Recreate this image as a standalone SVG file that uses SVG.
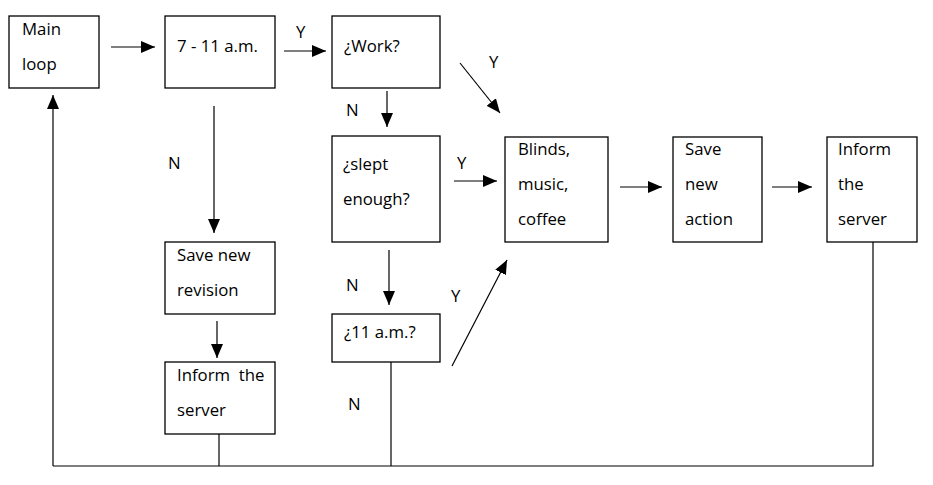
<svg xmlns="http://www.w3.org/2000/svg" width="933" height="485" viewBox="0 0 933 485">
<style>
.box{fill:#fff;stroke:#000;stroke-width:1.3}
.t{font-family:"Open Sans","Liberation Sans",sans-serif;font-size:16.8px;fill:#000}
.c{stroke:#000;stroke-width:1.2;fill:none}
.a{marker-end:url(#ah)}
</style>
<defs>
<marker id="ah" viewBox="0 0 14 12" refX="14" refY="6" markerWidth="14" markerHeight="12" markerUnits="userSpaceOnUse" orient="auto">
<path d="M0,0 L14,6 L0,12 Z" fill="#000"/>
</marker>
</defs>
<rect width="933" height="485" fill="#fff"/>
<g id="connectors">
<line class="c a" x1="111" y1="47" x2="155" y2="47"/>
<line class="c a" x1="284" y1="51" x2="326" y2="51"/>
<line class="c a" x1="460" y1="63" x2="500" y2="113"/>
<line class="c a" x1="387" y1="91" x2="387" y2="127"/>
<line class="c a" x1="214" y1="106" x2="214" y2="233"/>
<line class="c a" x1="454" y1="181" x2="497" y2="181"/>
<line class="c a" x1="620" y1="187" x2="662" y2="187"/>
<line class="c a" x1="772" y1="187" x2="812" y2="187"/>
<line class="c a" x1="389" y1="250" x2="389" y2="305"/>
<line class="c a" x1="452" y1="366" x2="507" y2="260"/>
<line class="c a" x1="217" y1="321" x2="217" y2="358"/>
<polyline class="c" points="873,242 873,466 53,466"/>
<line class="c a" x1="53" y1="466" x2="53" y2="95"/>
<line class="c" x1="219" y1="434" x2="219" y2="466"/>
<line class="c" x1="391" y1="362" x2="391" y2="466"/>
<text class="t" x="296" y="38">Y</text>
<text class="t" x="489" y="68">Y</text>
<text class="t" x="346" y="116">N</text>
<text class="t" x="168" y="169">N</text>
<text class="t" x="457" y="169">Y</text>
<text class="t" x="346" y="291">N</text>
<text class="t" x="451" y="302">Y</text>
<text class="t" x="348" y="410">N</text>
</g>
<g id="main-loop">
<rect class="box" x="9" y="16" width="90" height="72"/>
<text class="t" x="22" y="35">Main</text>
<text class="t" x="22" y="70">loop</text>
</g>
<g id="time-window">
<rect class="box" x="165" y="16" width="110" height="72"/>
<text class="t" x="177" y="52">7 - 11 a.m.</text>
</g>
<g id="work">
<rect class="box" x="332" y="16" width="108" height="72"/>
<text class="t" x="344" y="52">¿Work?</text>
</g>
<g id="slept-enough">
<rect class="box" x="332" y="136" width="108" height="106"/>
<text class="t" x="343" y="170">¿slept</text>
<text class="t" x="343" y="205">enough?</text>
</g>
<g id="eleven-am">
<rect class="box" x="332" y="314" width="108" height="48"/>
<text class="t" x="344" y="338">¿11 a.m.?</text>
</g>
<g id="save-revision">
<rect class="box" x="165" y="242" width="110" height="72"/>
<text class="t" x="177" y="261">Save new</text>
<text class="t" x="177" y="296">revision</text>
</g>
<g id="inform-server-left">
<rect class="box" x="165" y="362" width="110" height="72"/>
<text class="t" x="177" y="381" xml:space="preserve">Inform  the</text>
<text class="t" x="177" y="416">server</text>
</g>
<g id="blinds">
<rect class="box" x="505" y="137" width="103" height="105"/>
<text class="t" x="518" y="155">Blinds,</text>
<text class="t" x="518" y="190">music,</text>
<text class="t" x="518" y="225">coffee</text>
</g>
<g id="save-action">
<rect class="box" x="673" y="137" width="89" height="105"/>
<text class="t" x="685" y="155">Save</text>
<text class="t" x="685" y="190">new</text>
<text class="t" x="685" y="225">action</text>
</g>
<g id="inform-server-right">
<rect class="box" x="827" y="137" width="90" height="105"/>
<text class="t" x="838" y="155">Inform</text>
<text class="t" x="838" y="190">the</text>
<text class="t" x="838" y="225">server</text>
</g>
</svg>
